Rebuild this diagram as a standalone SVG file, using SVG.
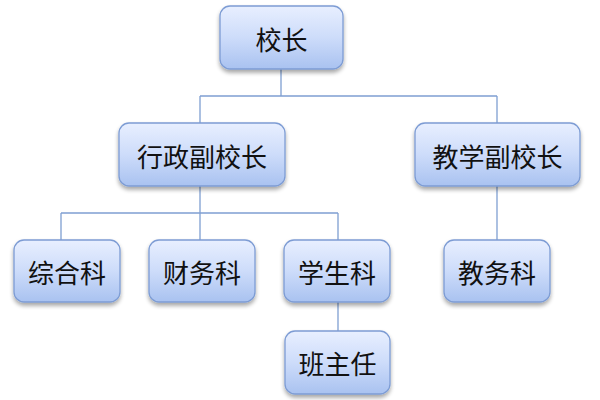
<svg xmlns="http://www.w3.org/2000/svg" width="600" height="400" viewBox="0 0 600 400">
<defs>
<linearGradient id="g" x1="0" y1="0" x2="0" y2="1">
<stop offset="0" stop-color="#e8efff"/>
<stop offset="0.5" stop-color="#cddcfa"/>
<stop offset="1" stop-color="#a9c2f0"/>
</linearGradient>
<filter id="sh" x="-20%" y="-20%" width="140%" height="150%">
<feGaussianBlur in="SourceAlpha" stdDeviation="2"/>
<feOffset dx="0" dy="3"/>
<feComponentTransfer><feFuncA type="linear" slope="0.35"/></feComponentTransfer>
<feMerge><feMergeNode/><feMergeNode in="SourceGraphic"/></feMerge>
</filter>
</defs>
<style>
.box{fill:url(#g);stroke:#7d9cd4;stroke-width:1.3;filter:url(#sh)}
.t{font-family:"Noto Sans CJK SC","Noto Sans CJK JP",sans-serif;font-size:26px;fill:#111;text-anchor:middle;dominant-baseline:central}
.c{fill:none;stroke:#7f9fd2;stroke-width:1.3}
</style>
<rect width="600" height="400" fill="#fff"/>
<g id="connectors">
<path class="c" d="M281,69 V96 M200,96 H497 M200,96 V123 M497,96 V123"/>
<path class="c" d="M200,186 V213 M61,213 H338 M61,213 V240 M200,213 V240 M338,213 V240"/>
<path class="c" d="M497,186 V240"/>
<path class="c" d="M338,302 V331"/>
</g>
<g id="n1"><rect class="box" x="220" y="6" width="123" height="63" rx="10"/><text class="t" x="281.5" y="38">校长</text></g>
<g id="n2"><rect class="box" x="119" y="123" width="166" height="63" rx="10"/><text class="t" x="202" y="155">行政副校长</text></g>
<g id="n3"><rect class="box" x="415" y="123" width="165" height="63" rx="10"/><text class="t" x="497.5" y="155">教学副校长</text></g>
<g id="n4"><rect class="box" x="14" y="240" width="106" height="62" rx="10"/><text class="t" x="67" y="271">综合科</text></g>
<g id="n5"><rect class="box" x="149" y="240" width="106" height="62" rx="10"/><text class="t" x="202" y="271">财务科</text></g>
<g id="n6"><rect class="box" x="284" y="240" width="106" height="62" rx="10"/><text class="t" x="337" y="271">学生科</text></g>
<g id="n7"><rect class="box" x="444" y="240" width="106" height="62" rx="10"/><text class="t" x="497" y="271">教务科</text></g>
<g id="n8"><rect class="box" x="285" y="331" width="105" height="63" rx="10"/><text class="t" x="337.5" y="362">班主任</text></g>
</svg>
